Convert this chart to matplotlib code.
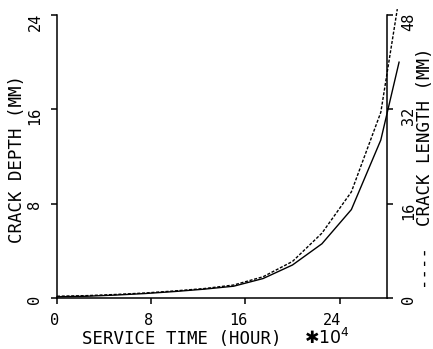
import matplotlib
matplotlib.use("Agg")
import matplotlib.pyplot as plt
from matplotlib import transforms

# Data
time_x = [0, 2.5, 5, 7.5, 10, 12.5, 15, 17.5, 20, 22.5, 25, 27.5, 29.05]
crack_depth = [0.1, 0.15, 0.25, 0.38, 0.55, 0.75, 1.0, 1.65, 2.8, 4.6, 7.5, 13.4, 20.0]
length_x = [0, 2.5, 5, 7.5, 10, 12.5, 15, 17.5, 20, 22.5, 25, 27.5, 28.9]
crack_length = [0.3, 0.4, 0.6, 0.85, 1.2, 1.6, 2.2, 3.6, 6.2, 11.0, 18.0, 31.5, 49.0]

x_ticks = [0, 8, 16, 24]
depth_ticks = [0, 8, 16, 24]
length_ticks = [0, 16, 32, 48]

FONT = "DejaVu Sans Mono"
plt.rcParams["font.family"] = FONT

W, H = 433, 349
fig = plt.figure(figsize=(W / 100, H / 100), dpi=100)
ax = fig.add_axes([57 / W, 1 - 298 / H, (386.7 - 57) / W, (298 - 15) / H])
ax2 = ax.twinx()

ax.plot(time_x, crack_depth, color="black", lw=1.0, clip_on=False)
ax2.plot(length_x, crack_length, color="black", lw=1.0, ls=(0, (2.2, 1.2)), clip_on=False)

ax.set_xlim(0, 28)
ax.set_ylim(0, 24)
ax2.set_ylim(0, 48)

ax.set_xticks(x_ticks)
ax.set_yticks(depth_ticks)
ax2.set_yticks(length_ticks)

for a in (ax, ax2):
    a.spines["top"].set_visible(False)
    for s in a.spines.values():
        s.set_linewidth(1.1)
ax.spines["right"].set_visible(False)
ax2.spines["left"].set_visible(False)
ax2.spines["bottom"].set_visible(False)

ax.tick_params(axis="x", direction="out", length=4, width=1.1, labelbottom=False)
ax.tick_params(axis="y", direction="out", length=4, width=1.1, labelleft=False)
ax2.tick_params(axis="y", direction="out", length=4, width=1.1, labelright=False)

# tick labels, plotter style placement
TS = 11
for v in x_ticks:
    tr = transforms.offset_copy(ax.get_xaxis_transform(), fig, x=2, y=-15, units="dots")
    ax.text(v, 0, str(v), transform=tr, ha="right", va="top", fontsize=TS)

def ydy(v):
    return -7 if len(str(v)) > 1 else -1

for v in depth_ticks:
    tr = transforms.offset_copy(ax.get_yaxis_transform(), fig, x=-22, y=ydy(v), units="dots")
    ax.text(0, v, str(v), transform=tr, ha="center", va="center", rotation=90, fontsize=TS)
for v in length_ticks:
    tr = transforms.offset_copy(ax2.get_yaxis_transform(), fig, x=22, y=ydy(v), units="dots")
    ax2.text(1, v, str(v), transform=tr, ha="center", va="center", rotation=90, fontsize=TS)

fig.text(82 / W, 1 - 344 / H, "SERVICE TIME (HOUR)", fontsize=12.5, ha="left",
         va="baseline")
fig.text(304 / W, 1 - 344 / H, "\u2731" + "10$^4$", fontsize=12.5, ha="left",
         va="baseline", family=["DejaVu Sans", FONT])
fig.text(17 / W, 1 - 159 / H, "CRACK DEPTH (MM)", fontsize=12.5, rotation=90,
         ha="center", va="center")
fig.text(425 / W, 1 - 168 / H, "----  CRACK LENGTH (MM)", fontsize=12.5, rotation=90,
         ha="center", va="center")

fig.savefig("out.png", dpi=100)
